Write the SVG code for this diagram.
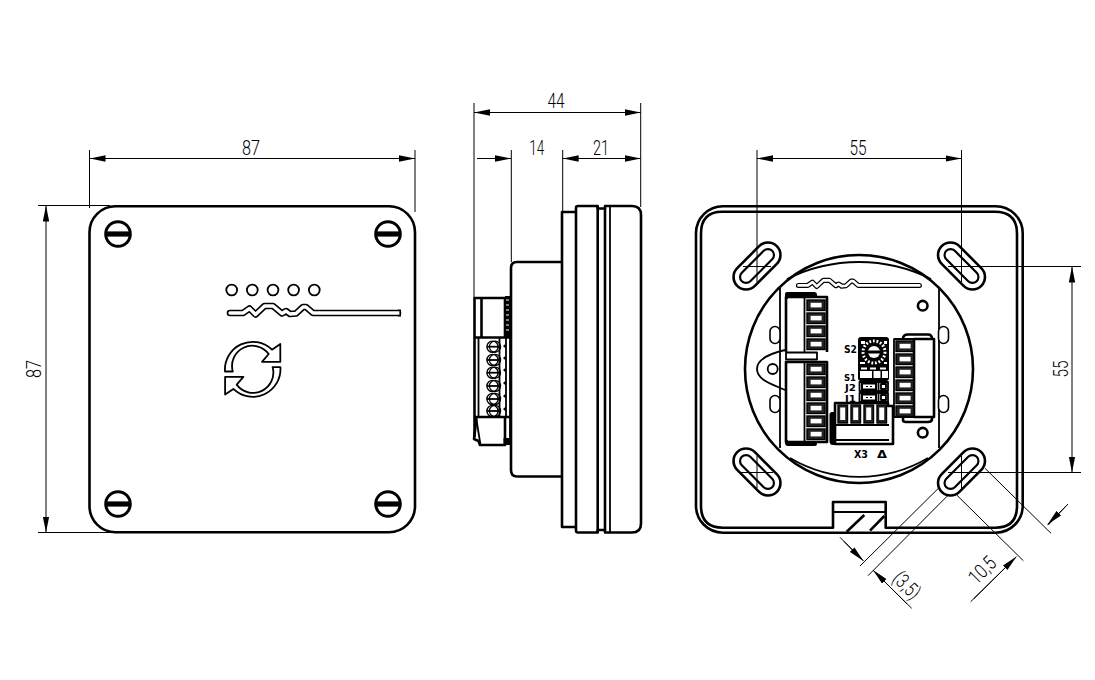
<svg xmlns="http://www.w3.org/2000/svg" xmlns:xlink="http://www.w3.org/1999/xlink" width="1095" height="680" viewBox="0 0 1095 680">
<style>
.h{fill:none;stroke:#000;stroke-width:2.6;stroke-linejoin:round}
.m{fill:none;stroke:#000;stroke-width:1.8;stroke-linejoin:round}
.w{fill:#fff;stroke:#000;stroke-width:2.6;stroke-linejoin:round}
.t{fill:none;stroke:#000;stroke-width:1}
.d{fill:none;stroke:#000;stroke-width:1;marker-start:url(#a);marker-end:url(#a)}
.e{fill:none;stroke:#000;stroke-width:1;marker-end:url(#a)}
.dim{font-family:Roboto,"Liberation Sans",sans-serif;font-weight:300;font-size:20px;fill:#000;text-anchor:middle}
.lab{font-family:"DejaVu Sans","Liberation Sans",sans-serif;font-weight:700;font-size:11px;fill:#000}
.lab2{font-family:"DejaVu Sans","Liberation Sans",sans-serif;font-weight:700;font-size:9px;fill:#000}
.k{fill:#000}
.wf{fill:#fff}
</style>
<defs>
<marker id="a" markerUnits="userSpaceOnUse" markerWidth="16" markerHeight="7" refX="16" refY="3.5" orient="auto-start-reverse" viewBox="0 0 16 7"><path d="M0,0.3L16,3.5L0,6.7Z" fill="#000"/></marker>
<path id="wave" d="M230,312.5H243L249.5,308L255.5,314L264.5,305.5L273,305.5L282,313L286,310.5L290,313.5L296,313L303,306.5L306,306.5L313,312.5H398"/>
<g id="screw"><circle r="12.3" fill="#fff" stroke="#000" stroke-width="3"/><rect x="-12" y="-2.6" width="24" height="5.2" fill="#000"/></g>
<g id="termH"><rect x="0" y="0" width="18" height="10.5" fill="#222" stroke="#000" stroke-width="1.4"/><rect x="3.6" y="2.8" width="11" height="4.6" fill="#fff"/></g>
<g id="termV"><rect x="0" y="0" width="9.5" height="18" fill="#222" stroke="#000" stroke-width="1.4"/><rect x="2.2" y="2.5" width="5" height="12.5" fill="#fff"/></g>
<g id="slot"><rect x="-28" y="-12.5" width="56" height="25" rx="12.5" fill="#fff" stroke="#000" stroke-width="2.6"/><rect x="-21.5" y="-6" width="43" height="12" rx="6" fill="#fff" stroke="#000" stroke-width="2.2"/></g>
<g id="oval"><rect x="-5" y="-8.5" width="10" height="17" rx="5" fill="#fff" stroke="#000" stroke-width="1.6"/></g>
<g id="shaft"><circle r="5.6" fill="#fff" stroke="#000" stroke-width="1.4"/><circle cx="2.5" r="5.6" fill="none" stroke="#000" stroke-width="1.2"/><path d="M-5.5,0H8" stroke="#000" stroke-width="1.8"/></g>
</defs>

<g id="connectors">
<path class="t" d="M89.5,150V208M415,150V212M38,205.5H110M38,532.5H112"/>
<path class="d" d="M89.5,158.5H415"/>
<path class="d" d="M46,205.5V532.5"/>
<path class="t" d="M474,103V298M640.7,103V207M511.3,150V262M562.7,150V212"/>
<path class="d" d="M474,112.5H640.7"/>
<path class="e" d="M477,158.5H511"/>
<path class="d" d="M562.7,158.5H640.7"/>
<path class="t" d="M757,150V280M961.5,150V280M961.5,266.5H1081M962,472.5H1081"/>
<path class="d" d="M757,158.5H961.5"/>
<path class="d" d="M1072,266.5V472.5"/>
<path class="t" d="M860,566L940,486.7M868,575.7L948.3,495M840,537.3L861.7,559.3M873,570.3L911.7,608.3M985,468.3L1051,533.3M956.7,495L1023.3,560.7M970.7,601.7L1016,557.3M1048.3,525L1068,504"/>
<path class="e" d="M844,541.5L863.5,561"/>
<path class="e" d="M907,604L873,570"/>
<path class="e" d="M974,598.5L1016.5,556.5"/>
<path class="e" d="M1066,506L1047.5,524.5"/>
</g>

<g id="front-view">
<rect class="h" x="89.5" y="206.2" width="325.5" height="326" rx="26"/>
<use xlink:href="#screw" x="118" y="234"/>
<use xlink:href="#screw" x="388" y="234"/>
<use xlink:href="#screw" x="118" y="504"/>
<use xlink:href="#screw" x="388" y="504"/>
<g class="m"><circle cx="231.7" cy="290" r="5.4"/><circle cx="252.3" cy="290" r="5.4"/><circle cx="273" cy="290" r="5.4"/><circle cx="293.6" cy="290" r="5.4"/><circle cx="314.3" cy="290" r="5.4"/></g>
<g transform="translate(0 .5)">
<use xlink:href="#wave" fill="none" stroke="#000" stroke-width="6.6" stroke-linejoin="round" stroke-linecap="round"/>
<use xlink:href="#wave" fill="none" stroke="#fff" stroke-width="3.4" stroke-linejoin="round" stroke-linecap="round"/>
<path d="M398,309.9H400.2V315.1H398" fill="#fff" stroke="#000" stroke-width="1.6"/>
</g>
<path id="rf" class="m" d="M225,371.5A27.7,27.7 0 0 1 272,349.7L280.3,344V361.8H262L268.7,354A20.3,20.3 0 0 0 232.8,371.5Z"/>
<use xlink:href="#rf" transform="rotate(180 252.7 369.3)"/>
</g>

<g id="side-view">
<path class="h" d="M561.7,262H517Q511,262 511,268V470Q511,476.5 517,476.5H561.7"/>
<path class="h" d="M576,212H562V527H576"/>
<path class="h" d="M576,208Q576,206 578,206H597.7V208.5H605V206H632Q641,206 641,215V523.5Q641,532.5 632,532.5H605V530H597.7V532.5H578Q576,532.5 576,530.5Z"/>
<path class="h" d="M597.7,206V532.5M605,208V530"/>
<path class="m" d="M610,206V532.5"/>
<path class="h" d="M505,298H474.5V437M481.5,298V337.5M474,337.5H510M474,417H510M505,298V337"/>
<path class="m" d="M478.5,338V417M506,338V417M499.5,338V417"/>
<rect class="k" x="505" y="296" width="5" height="42"/>
<path d="M506,300h3M506,305h3M506,310h3M506,315h3M506,320h3M506,325h3M506,330h3" stroke="#fff" stroke-width="1"/>
<use xlink:href="#shaft" x="492.5" y="346.7"/>
<use xlink:href="#shaft" x="492.5" y="360"/>
<use xlink:href="#shaft" x="492.5" y="372.7"/>
<use xlink:href="#shaft" x="492.5" y="386"/>
<use xlink:href="#shaft" x="492.5" y="399"/>
<use xlink:href="#shaft" x="492.5" y="411"/>
<g class="k"><circle cx="505" cy="346" r="1.6"/><circle cx="505" cy="358" r="1.6"/><circle cx="505" cy="370" r="1.6"/><circle cx="505" cy="383" r="1.6"/><circle cx="505" cy="396" r="1.6"/><circle cx="505" cy="409" r="1.6"/></g>
<path class="h" d="M476.5,418L474,439L478.5,441L480,445H505V418"/>
<path class="m" d="M476.5,420L480.5,445"/>
<rect class="k" x="503.5" y="438" width="7" height="7"/>
<path class="m" d="M510,296V445"/>
</g>

<g id="rear-view">
<rect class="h" x="696" y="206.2" width="326.7" height="326.5" rx="27"/>
<path class="h" d="M722,211.7H995Q1017,211.7 1017,233.7V506Q1017,527.7 995,527.7H885.7V502H833V527.7H723Q701,527.7 701,506V233.7Q701,211.7 722,211.7Z"/>
<path class="m" d="M833,512H885.7"/>
<path class="h" d="M846.7,531.7L864.3,515M870,530.7L884.3,516"/>
<circle class="h" cx="859" cy="369" r="114"/>
<path class="m" d="M787,279A161,161 0 0 1 931,279M790,458A136,136 0 0 0 928,458"/>
<path class="m" d="M785,350C772,353 757,358 757,369C757,380 772,384 785,390"/>
<circle class="m" cx="772.7" cy="369" r="5"/>
<path class="m" d="M780,288V448M939,288V448"/>
<use xlink:href="#oval" x="775" y="335"/><use xlink:href="#oval" x="775" y="404"/><use xlink:href="#oval" x="943.5" y="335"/><use xlink:href="#oval" x="943.5" y="404"/>
<circle class="h" cx="922.7" cy="305.7" r="4.8"/>
<circle class="h" cx="922.7" cy="432.7" r="4.8"/>
<use xlink:href="#wave" transform="translate(797 280) scale(.72) translate(-228 -305)" fill="none" stroke="#000" stroke-width="7" stroke-linejoin="round" stroke-linecap="round"/>
<use xlink:href="#wave" transform="translate(797 280) scale(.72) translate(-228 -305)" fill="none" stroke="#fff" stroke-width="3.6" stroke-linejoin="round" stroke-linecap="round"/>
<g transform="translate(757 266) rotate(-45)"><use xlink:href="#slot"/></g>
<g transform="translate(961.5 266) rotate(45)"><use xlink:href="#slot"/></g>
<g transform="translate(757 472) rotate(45)"><use xlink:href="#slot"/></g>
<g transform="translate(961.5 472) rotate(-45)"><use xlink:href="#slot"/></g>
<path class="t" d="M757,250V282M743,266.5H771M961.5,250V282M948,266.5H985M757,456V488M741,472.5H773M961.5,456V488M948,472.5H985"/>

<g id="x1">
<path class="h" d="M786,352V297H827V352"/>
<path class="k" d="M785,299V294Q785,292 787,292H814Q817,292 817,295V297H788V299Z"/>
<path class="m" d="M804.5,297V352"/>
<use xlink:href="#termH" x="807" y="300"/><use xlink:href="#termH" x="807" y="313"/><use xlink:href="#termH" x="807" y="326"/><use xlink:href="#termH" x="807" y="339"/>
<path class="m" d="M786,352.5H817V359.5H786Z"/>
</g>
<g id="x2">
<path class="h" d="M786,362H827V442H786Z"/>
<path class="m" d="M804.5,362V442"/>
<use xlink:href="#termH" x="807" y="364"/><use xlink:href="#termH" x="807" y="377"/><use xlink:href="#termH" x="807" y="390"/><use xlink:href="#termH" x="807" y="403"/><use xlink:href="#termH" x="807" y="416"/><use xlink:href="#termH" x="807" y="429"/>
<path class="k" d="M785,440H788V442H817V444Q817,446 815,446H788Q785,446 785,443Z"/>
</g>
<g id="x4">
<path class="h" d="M903,339Q903,334.5 908,334.5H928Q932,334.5 932,339"/>
<rect class="h" x="914" y="339" width="20" height="78"/>
<path class="h" d="M903,417V420Q903,422 906,422H928Q932,422 932,419V417"/>
<path class="m" d="M893.5,339H914M893.5,417H914M894,339V417"/>
<use xlink:href="#termH" x="896" y="341"/><use xlink:href="#termH" x="896" y="354"/><use xlink:href="#termH" x="896" y="367"/><use xlink:href="#termH" x="896" y="380"/><use xlink:href="#termH" x="896" y="393"/><use xlink:href="#termH" x="896" y="406"/>
</g>
<g id="s2">
<rect class="k" x="858" y="337" width="31" height="44" rx="3"/>
<circle cx="874" cy="352" r="11" fill="none" stroke="#fff" stroke-width="3" stroke-dasharray="1.8 1.8"/>
<circle cx="874" cy="352" r="6" fill="#fff"/>
<rect class="k" x="867" y="350.5" width="14" height="3"/>
<path d="M861,341h4v3h-4zM884,341h3v3h-3zM860,362h5v2h-5zM884,362h3v2h-3z" fill="#fff"/>
<path d="M861,367.5h6v2h-6zM870,367.5h6v2h-6zM880,367.5h6v2h-6z" fill="#fff"/>
<rect class="wf" x="860" y="371" width="12" height="7"/><rect class="wf" x="873.5" y="371" width="7" height="7"/><rect class="wf" x="882" y="371" width="6" height="7"/>
</g>
<g id="j2"><rect class="m" x="859.5" y="382" width="28.5" height="9"/><rect class="k" x="861" y="383" width="16" height="7"/><rect class="wf" x="863" y="384.5" width="12" height="4"/><path d="M866,386.5h2M870,386.5h2" stroke="#000"/><path class="m" d="M878.5,382V391"/><rect class="m" x="881" y="384" width="5" height="5"/></g>
<g id="j1"><rect class="m" x="859.5" y="393" width="28.5" height="9"/><rect class="k" x="861" y="394" width="16" height="7"/><rect class="wf" x="863" y="395.5" width="12" height="4"/><path d="M866,397.5h2M870,397.5h2" stroke="#000"/><path class="m" d="M878.5,393V402"/><rect class="m" x="881" y="395" width="5" height="5"/></g>
<g id="x3">
<path class="h" d="M835,403H888V406H893V444H835Z" fill="#fff"/>
<path class="k" d="M835,412H832Q829.5,412 829.5,415V441Q829.5,445 833,445H835Z"/>
<use xlink:href="#termV" x="838" y="405"/><use xlink:href="#termV" x="851" y="405"/><use xlink:href="#termV" x="864" y="405"/><use xlink:href="#termV" x="877" y="405"/>
<path class="m" d="M836,425H889M836,440H889"/>
</g>
<text class="lab" x="844" y="353" textLength="13" lengthAdjust="spacingAndGlyphs">S2</text>
<text class="lab2" x="844" y="380.5" textLength="12" lengthAdjust="spacingAndGlyphs">S1</text>
<text class="lab2" x="845" y="391" textLength="11" lengthAdjust="spacingAndGlyphs">J2</text>
<text class="lab2" x="845" y="401.5" textLength="11" lengthAdjust="spacingAndGlyphs">J1</text>
<text class="lab" x="854" y="457.5" textLength="14" lengthAdjust="spacingAndGlyphs">X3</text>
<text class="lab" x="877" y="457.5" textLength="10" lengthAdjust="spacingAndGlyphs">Δ</text>
</g>

<g id="dimension-labels">
<text class="dim" x="251" y="155" textLength="18" lengthAdjust="spacingAndGlyphs">87</text>
<text class="dim" transform="translate(41 369) rotate(-90)" textLength="18" lengthAdjust="spacingAndGlyphs">87</text>
<text class="dim" x="556" y="107.5" textLength="17" lengthAdjust="spacingAndGlyphs">44</text>
<text class="dim" x="536.7" y="155" textLength="15" lengthAdjust="spacingAndGlyphs">14</text>
<text class="dim" x="601" y="155" textLength="16" lengthAdjust="spacingAndGlyphs">21</text>
<text class="dim" x="858" y="155" textLength="17" lengthAdjust="spacingAndGlyphs">55</text>
<text class="dim" transform="translate(1068 369) rotate(-90)" textLength="17" lengthAdjust="spacingAndGlyphs">55</text>
<text class="dim" transform="translate(902 590) rotate(45)" textLength="30" lengthAdjust="spacingAndGlyphs">(3,5)</text>
<text class="dim" transform="translate(987 575) rotate(-45)" textLength="30" lengthAdjust="spacingAndGlyphs">10,5</text>
</g>
</svg>
